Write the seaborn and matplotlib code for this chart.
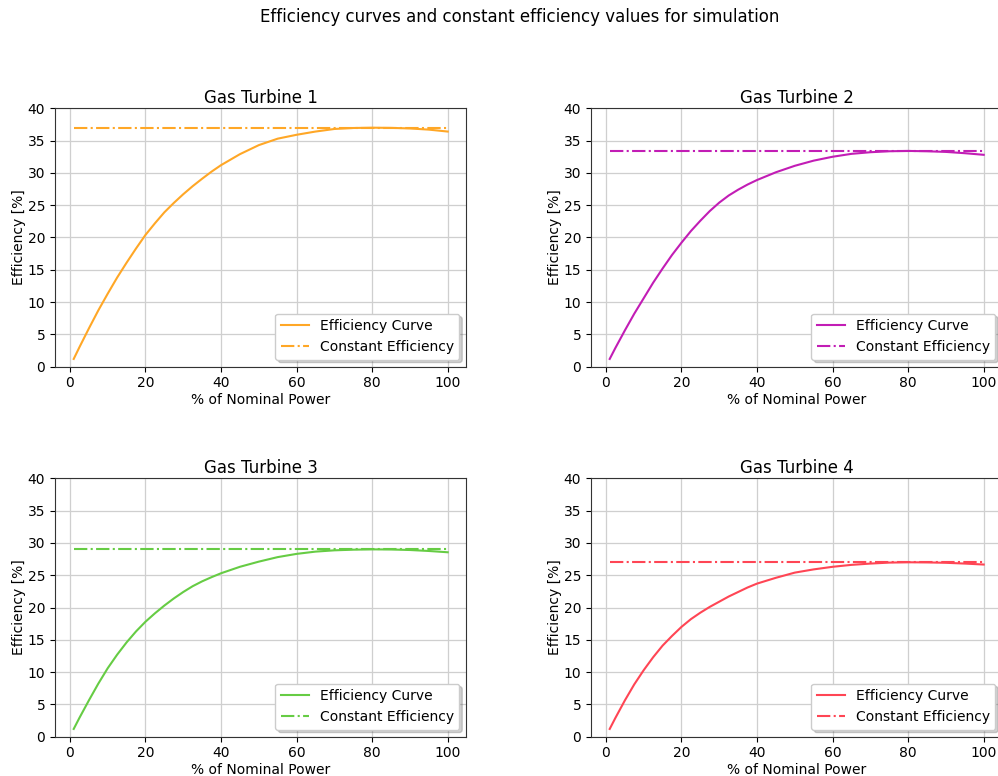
import numpy as np
import pandas as pd
import matplotlib
matplotlib.use("Agg")
import matplotlib.pyplot as plt
import seaborn as sns

# ---- data ----
load_pct = [1, 2.5, 5, 7.5, 10, 12.5, 15, 17.5, 20, 22.5, 25, 27.5, 30, 32.5, 35, 37.5, 40,
            45, 50, 55, 60, 65, 70, 75, 80, 85, 90, 95, 100]

gt1_eff = [1.2, 3.0, 5.9, 8.7, 11.3, 13.8, 16.1, 18.3, 20.4, 22.2, 23.9, 25.35, 26.7, 27.95,
           29.1, 30.2, 31.2, 32.9, 34.3, 35.3, 35.9, 36.4, 36.8, 36.95, 37.0, 36.97, 36.88,
           36.7, 36.4]
gt2_eff = [1.2, 2.9, 5.6, 8.2, 10.6, 13.0, 15.2, 17.3, 19.2, 21.0, 22.6, 24.1, 25.4, 26.5,
           27.4, 28.2, 28.9, 30.1, 31.1, 31.9, 32.5, 32.95, 33.2, 33.35, 33.4, 33.35, 33.25,
           33.05, 32.8]
gt3_eff = [1.2, 2.9, 5.6, 8.2, 10.6, 12.7, 14.6, 16.3, 17.8, 19.1, 20.3, 21.4, 22.4, 23.3,
           24.05, 24.7, 25.3, 26.3, 27.1, 27.8, 28.3, 28.65, 28.85, 28.95, 29.0, 28.98, 28.9,
           28.75, 28.55]
gt4_eff = [1.2, 2.9, 5.6, 8.1, 10.3, 12.3, 14.1, 15.6, 17.0, 18.2, 19.2, 20.1, 20.9, 21.7,
           22.4, 23.1, 23.7, 24.6, 25.4, 25.9, 26.3, 26.6, 26.8, 26.95, 27.0, 26.98, 26.92,
           26.8, 26.65]

const_eff = [37.0, 33.4, 29.0, 27.0]
titles = ["Gas Turbine 1", "Gas Turbine 2", "Gas Turbine 3", "Gas Turbine 4"]
colors = ["#FFA726", "#C21DB5", "#66CC44", "#FF4554"]
curves = [gt1_eff, gt2_eff, gt3_eff, gt4_eff]

# ---- figure ----
fig = plt.figure(figsize=(9.98, 7.76), dpi=100)
W, H = 998, 776
ax_w = 411.4 / W
ax_h = 258.4 / H
lefts = [55 / W, 591 / W, 55 / W, 591 / W]
bottoms = [1 - 366.7 / H, 1 - 366.7 / H, 1 - 736.7 / H, 1 - 736.7 / H]

for i in range(4):
    ax = fig.add_axes([lefts[i], bottoms[i], ax_w, ax_h])
    df = pd.DataFrame({"x": load_pct, "y": curves[i],
                       "c": [const_eff[i]] * len(load_pct)})
    sns.lineplot(data=df, x="x", y="y", ax=ax, color=colors[i], lw=1.5,
                 label="Efficiency Curve")
    sns.lineplot(data=df, x="x", y="c", ax=ax, color=colors[i], lw=1.5,
                 linestyle="-.", label="Constant Efficiency")
    ax.set_ylim(0, 40)
    ax.set_yticks(np.arange(0, 41, 5))
    ax.set_xticks([0, 20, 40, 60, 80, 100])
    ax.grid(True, color="#cfcfcf", lw=0.9)
    ax.set_axisbelow(True)
    for s in ax.spines.values():
        s.set_color("#333333")
    ax.set_title(titles[i], fontsize=12, pad=4)
    ax.set_xlabel("% of Nominal Power", fontsize=10, labelpad=1.5)
    ax.set_ylabel("Efficiency [%]", fontsize=10, labelpad=1.5)
    ax.legend(loc="lower right", shadow={"alpha": 0.25}, fontsize=10)

fig.suptitle("Efficiency curves and constant efficiency values for simulation",
             x=0.521, y=1 - 17 / H, va="center", fontsize=12)

fig.savefig("out.png", dpi=100)
